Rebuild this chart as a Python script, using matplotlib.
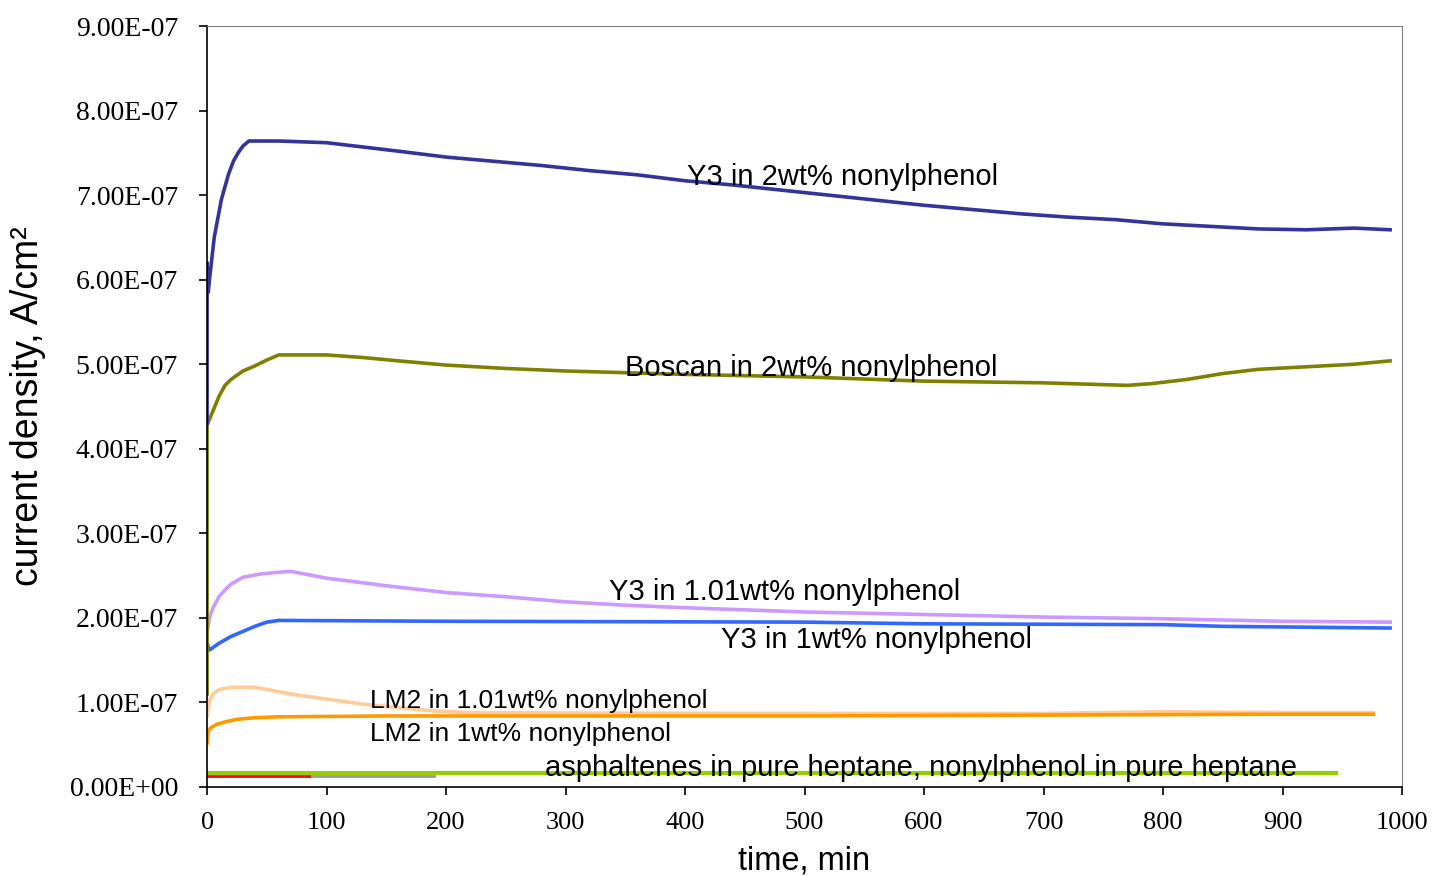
import matplotlib
matplotlib.use('Agg')
import matplotlib.pyplot as plt
from matplotlib.ticker import FuncFormatter, MultipleLocator

# 数据 (电流密度单位 1e-7 A/cm2)
y3_2_t = [0, 0, 1, 2, 4, 6, 8, 10, 12, 15, 18, 22, 26, 30, 35, 60, 100, 130, 160, 200, 240, 280,
          320, 360, 400, 440, 480, 520, 560, 600, 640, 680, 720, 760, 800, 840, 880, 920, 960, 990]
y3_2_j = [4.3, 6.2, 5.85, 6.0, 6.25, 6.5, 6.65, 6.8, 6.95, 7.1, 7.25, 7.4, 7.5, 7.58, 7.64, 7.64,
          7.62, 7.57, 7.52, 7.45, 7.40, 7.35, 7.29, 7.24, 7.17, 7.12, 7.06, 7.00, 6.94, 6.88, 6.83,
          6.78, 6.74, 6.71, 6.66, 6.63, 6.60, 6.59, 6.61, 6.59]

boscan_t = [0, 0, 2, 5, 10, 15, 20, 30, 40, 50, 60, 100, 130, 160, 200, 250, 300, 400, 500, 560,
            600, 700, 770, 790, 820, 850, 880, 920, 960, 990]
boscan_j = [1.1, 4.28, 4.35, 4.45, 4.62, 4.75, 4.82, 4.92, 4.98, 5.05, 5.11, 5.11, 5.08, 5.04, 4.99,
            4.95, 4.92, 4.88, 4.85, 4.82, 4.80, 4.78, 4.75, 4.77, 4.82, 4.89, 4.94, 4.97, 5.00, 5.04]

y3_101_t = [0, 2, 5, 10, 15, 20, 30, 45, 60, 70, 100, 150, 200, 250, 300, 350, 400, 500, 600, 700,
            800, 900, 990]
y3_101_j = [1.83, 2.0, 2.12, 2.25, 2.33, 2.40, 2.48, 2.52, 2.54, 2.55, 2.47, 2.38, 2.30, 2.25, 2.19,
            2.15, 2.12, 2.07, 2.04, 2.01, 1.99, 1.96, 1.95]

y3_1_t = [0, 2, 5, 10, 15, 20, 30, 40, 50, 60, 200, 500, 600, 800, 850, 990]
y3_1_j = [1.70, 1.62, 1.65, 1.70, 1.74, 1.78, 1.84, 1.90, 1.95, 1.97, 1.96, 1.95, 1.93, 1.92, 1.90, 1.88]

lm2_101_t = [0, 2, 5, 10, 20, 40, 55, 70, 90, 110, 130, 160, 190, 220, 300, 500, 700, 800, 900, 976]
lm2_101_j = [0.84, 1.02, 1.10, 1.15, 1.18, 1.18, 1.14, 1.10, 1.06, 1.02, 0.98, 0.94, 0.90, 0.88,
             0.875, 0.87, 0.87, 0.89, 0.88, 0.88]

lm2_1_t = [0, 1, 3, 8, 15, 25, 40, 60, 150, 500, 880, 976]
lm2_1_j = [0.52, 0.66, 0.70, 0.74, 0.77, 0.80, 0.82, 0.83, 0.84, 0.84, 0.86, 0.86]

np_hep_t = [0, 945]
np_hep_j = [0.17, 0.17]
asph_t = [0, 85]
asph_j = [0.13, 0.13]
asph2_t = [85, 190]
asph2_j = [0.13, 0.13]

series = [
    (np_hep_t, np_hep_j, '#99CC00', 3.0),
    (asph2_t, asph2_j, '#999999', 2.0),
    (asph_t, asph_j, '#FF0000', 2.0),
    (lm2_101_t, lm2_101_j, '#FFCC99', 2.6),
    (lm2_1_t, lm2_1_j, '#FF9900', 2.6),
    (y3_101_t, y3_101_j, '#CC99FF', 2.6),
    (y3_1_t, y3_1_j, '#3366FF', 2.6),
    (boscan_t, boscan_j, '#808000', 2.6),
    (y3_2_t, y3_2_j, '#333399', 2.6),
]

# 曲线标注 (文字, t, j, 字号)
labels = [
    ('Y3 in 2wt% nonylphenol', 402, 7.22, 21),
    ('Boscan in 2wt% nonylphenol', 350, 4.96, 21),
    ('Y3 in 1.01wt% nonylphenol', 336, 2.31, 21),
    ('Y3 in 1wt% nonylphenol', 430, 1.74, 21),
    ('LM2 in 1.01wt% nonylphenol', 136, 1.02, 19),
    ('LM2 in 1wt% nonylphenol', 136, 0.63, 19),
    ('asphaltenes in pure heptane, nonylphenol in pure heptane', 283, 0.23, 21),
]


def draw():
    fig = plt.figure(figsize=(14.33, 8.76), dpi=100)
    ax = fig.add_axes([0.1445, 0.1016, 0.8339, 0.8687])

    for t, j, color, lw in series:
        ax.plot(t, [v * 1e-7 for v in j], color=color, lw=lw)

    for text, t, j, fs in labels:
        ax.text(t, j * 1e-7, text, fontsize=fs, family='Liberation Sans', va='center', ha='left')

    ax.set_xlim(0, 1000)
    ax.set_ylim(0, 9e-7)
    ax.xaxis.set_major_locator(MultipleLocator(100))
    ax.yaxis.set_major_locator(MultipleLocator(1e-7))
    ax.yaxis.set_major_formatter(FuncFormatter(lambda v, p: '{:.2E}'.format(v)))

    for lab in ax.get_xticklabels():
        lab.set_family('Liberation Serif')
        lab.set_fontsize(19)
    for lab in ax.get_yticklabels():
        lab.set_family('Liberation Serif')
        lab.set_fontsize(20)
    ax.tick_params(axis='y', length=6, width=1.2, pad=15)
    ax.tick_params(axis='x', length=6, width=1.2, pad=12)

    ax.spines['left'].set_linewidth(1.2)
    ax.spines['bottom'].set_linewidth(1.2)
    ax.spines['top'].set_color('#808080')
    ax.spines['right'].set_color('#808080')

    ax.set_xlabel('time, min', fontsize=23.5, family='Liberation Sans', labelpad=8)
    ax.set_ylabel('current density, A/cm²', fontsize=27, family='Liberation Sans')
    ax.yaxis.set_label_coords(-0.135, 0.5)

    fig.savefig('out.png', dpi=100)


if __name__ == "__main__":
    draw()
